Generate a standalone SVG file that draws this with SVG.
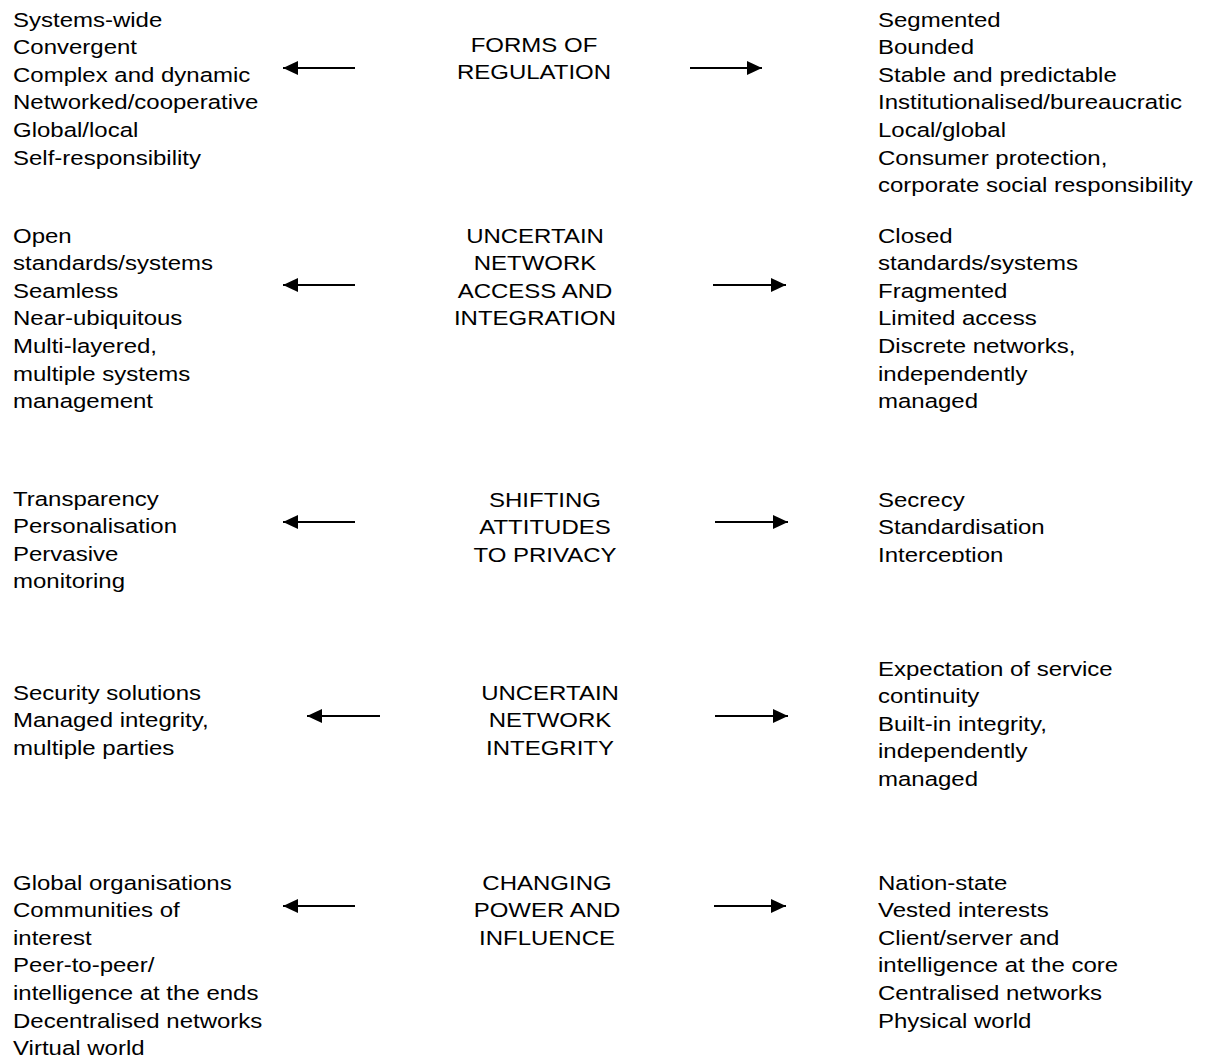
<svg xmlns="http://www.w3.org/2000/svg" width="1209" height="1059" viewBox="0 0 1209 1059">
<defs>
<style>
.t{font-family:"Liberation Sans",Arial,sans-serif;font-size:24px;fill:#000;}
.c{text-anchor:middle;}
.a{stroke:#000;stroke-width:2;fill:none;marker-end:url(#ah);}
</style>
<marker id="ah" markerUnits="userSpaceOnUse" markerWidth="16" markerHeight="14" refX="15" refY="7" orient="auto">
<path d="M0,0 L15,7 L0,14 z" fill="#000"/>
</marker>
<clipPath id="cut3"><rect x="0" y="0" width="1209" height="562"/></clipPath>
</defs>
<rect width="1209" height="1059" fill="#fff"/>

<g id="connectors">
<line class="a" x1="355" y1="68" x2="283" y2="68"/>
<line class="a" x1="690" y1="68" x2="762" y2="68"/>
<line class="a" x1="355" y1="285" x2="283" y2="285"/>
<line class="a" x1="713" y1="285" x2="786" y2="285"/>
<line class="a" x1="355" y1="522" x2="283" y2="522"/>
<line class="a" x1="715" y1="522" x2="788" y2="522"/>
<line class="a" x1="380" y1="716" x2="307" y2="716"/>
<line class="a" x1="715" y1="716" x2="788" y2="716"/>
<line class="a" x1="355" y1="906" x2="283" y2="906"/>
<line class="a" x1="714" y1="906" x2="786" y2="906"/>
</g>

<g id="regulation-left"><text class="t" transform="translate(13,27) scale(1,0.82)"><tspan x="0" y="0">Systems-wide</tspan><tspan x="0" dy="33.54">Convergent</tspan><tspan x="0" dy="33.54">Complex and dynamic</tspan><tspan x="0" dy="33.54">Networked/cooperative</tspan><tspan x="0" dy="33.54">Global/local</tspan><tspan x="0" dy="33.54">Self-responsibility</tspan></text></g>
<g id="regulation"><text class="t c" transform="translate(534,52) scale(1,0.82)"><tspan x="0" y="0">FORMS OF</tspan><tspan x="0" dy="33.54">REGULATION</tspan></text></g>
<g id="regulation-right"><text class="t" transform="translate(878,27) scale(1,0.82)"><tspan x="0" y="0">Segmented</tspan><tspan x="0" dy="33.54">Bounded</tspan><tspan x="0" dy="33.54">Stable and predictable</tspan><tspan x="0" dy="33.54">Institutionalised/bureaucratic</tspan><tspan x="0" dy="33.54">Local/global</tspan><tspan x="0" dy="33.54">Consumer protection,</tspan><tspan x="0" dy="33.54">corporate social responsibility</tspan></text></g>

<g id="access-left"><text class="t" transform="translate(13,243) scale(1,0.82)"><tspan x="0" y="0">Open</tspan><tspan x="0" dy="33.54">standards/systems</tspan><tspan x="0" dy="33.54">Seamless</tspan><tspan x="0" dy="33.54">Near-ubiquitous</tspan><tspan x="0" dy="33.54">Multi-layered,</tspan><tspan x="0" dy="33.54">multiple systems</tspan><tspan x="0" dy="33.54">management</tspan></text></g>
<g id="access"><text class="t c" transform="translate(535,243) scale(1,0.82)"><tspan x="0" y="0">UNCERTAIN</tspan><tspan x="0" dy="33.54">NETWORK</tspan><tspan x="0" dy="33.54">ACCESS AND</tspan><tspan x="0" dy="33.54">INTEGRATION</tspan></text></g>
<g id="access-right"><text class="t" transform="translate(878,243) scale(1,0.82)"><tspan x="0" y="0">Closed</tspan><tspan x="0" dy="33.54">standards/systems</tspan><tspan x="0" dy="33.54">Fragmented</tspan><tspan x="0" dy="33.54">Limited access</tspan><tspan x="0" dy="33.54">Discrete networks,</tspan><tspan x="0" dy="33.54">independently</tspan><tspan x="0" dy="33.54">managed</tspan></text></g>

<g id="privacy-left"><text class="t" transform="translate(13,506) scale(1,0.82)"><tspan x="0" y="0">Transparency</tspan><tspan x="0" dy="33.54">Personalisation</tspan><tspan x="0" dy="33.54">Pervasive</tspan><tspan x="0" dy="33.54">monitoring</tspan></text></g>
<g id="privacy" clip-path="url(#cut3)"><text class="t c" transform="translate(545,507) scale(1,0.82)"><tspan x="0" y="0">SHIFTING</tspan><tspan x="0" dy="33.54">ATTITUDES</tspan><tspan x="0" dy="33.54">TO PRIVACY</tspan></text></g>
<g id="privacy-right" clip-path="url(#cut3)"><text class="t" transform="translate(878,507) scale(1,0.82)"><tspan x="0" y="0">Secrecy</tspan><tspan x="0" dy="33.54">Standardisation</tspan><tspan x="0" dy="33.54">Interception</tspan></text></g>

<g id="integrity-left"><text class="t" transform="translate(13,700) scale(1,0.82)"><tspan x="0" y="0">Security solutions</tspan><tspan x="0" dy="33.54">Managed integrity,</tspan><tspan x="0" dy="33.54">multiple parties</tspan></text></g>
<g id="integrity"><text class="t c" transform="translate(550,700) scale(1,0.82)"><tspan x="0" y="0">UNCERTAIN</tspan><tspan x="0" dy="33.54">NETWORK</tspan><tspan x="0" dy="33.54">INTEGRITY</tspan></text></g>
<g id="integrity-right"><text class="t" transform="translate(878,676) scale(1,0.82)"><tspan x="0" y="0">Expectation of service</tspan><tspan x="0" dy="33.54">continuity</tspan><tspan x="0" dy="33.54">Built-in integrity,</tspan><tspan x="0" dy="33.54">independently</tspan><tspan x="0" dy="33.54">managed</tspan></text></g>

<g id="power-left"><text class="t" transform="translate(13,890) scale(1,0.82)"><tspan x="0" y="0">Global organisations</tspan><tspan x="0" dy="33.54">Communities of</tspan><tspan x="0" dy="33.54">interest</tspan><tspan x="0" dy="33.54">Peer-to-peer/</tspan><tspan x="0" dy="33.54">intelligence at the ends</tspan><tspan x="0" dy="33.54">Decentralised networks</tspan><tspan x="0" dy="33.54">Virtual world</tspan></text></g>
<g id="power"><text class="t c" transform="translate(547,890) scale(1,0.82)"><tspan x="0" y="0">CHANGING</tspan><tspan x="0" dy="33.54">POWER AND</tspan><tspan x="0" dy="33.54">INFLUENCE</tspan></text></g>
<g id="power-right"><text class="t" transform="translate(878,890) scale(1,0.82)"><tspan x="0" y="0">Nation-state</tspan><tspan x="0" dy="33.54">Vested interests</tspan><tspan x="0" dy="33.54">Client/server and</tspan><tspan x="0" dy="33.54">intelligence at the core</tspan><tspan x="0" dy="33.54">Centralised networks</tspan><tspan x="0" dy="33.54">Physical world</tspan></text></g>
</svg>
